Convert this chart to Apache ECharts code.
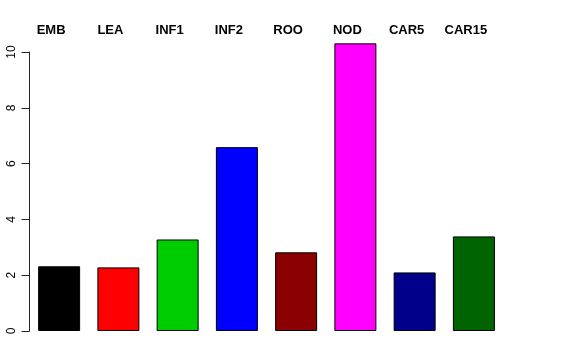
<!DOCTYPE html>
<html><head><meta charset="utf-8">
<script src="https://cdn.jsdelivr.net/npm/echarts@6/dist/echarts.min.js"></script>
<style>html,body{margin:0;padding:0;background:#fff}#c{width:576px;height:360px}</style>
</head><body><div id="c"></div>
<script>
var categories = ["EMB","LEA","INF1","INF2","ROO","NOD","CAR5","CAR15"];
var values = [2.32, 2.28, 3.28, 6.59, 2.82, 10.31, 2.10, 3.39];
var colors = ["#000000","#FF0000","#00CD00","#0000FF","#8B0000","#FF00FF","#00008B","#006400"];
var yTicks = [0, 2, 4, 6, 8, 10];

var chart = echarts.init(document.getElementById('c'), null, {renderer:'canvas'});
chart.setOption({
  animation: false,
  backgroundColor: '#fff',
  grid: {left: 29.5, right: 72.5, top: 52, bottom: 29, containLabel: false},
  xAxis: [{
    type: 'category', data: categories, position: 'bottom',
    axisLine: {show: false}, axisTick: {show: false}, axisLabel: {show: false}
  },{
    type: 'category', data: categories, position: 'top',
    axisLine: {show: false}, axisTick: {show: false},
    axisLabel: {show: true, interval: 0, margin: 15, fontFamily: 'Liberation Sans, Arial, sans-serif',
      fontWeight: 'bold', fontSize: 13, color: '#000', padding: [0, 16, 0, 0]}
  }],
  yAxis: {
    type: 'value', min: yTicks[0], max: yTicks[yTicks.length-1], interval: 2,
    splitLine: {show: false},
    axisLine: {show: true, lineStyle: {color: '#222', width: 1}},
    axisTick: {show: true, length: 8, lineStyle: {color: '#222'}},
    axisLabel: {rotate: 90, margin: 12, fontFamily: 'Liberation Sans, Arial, sans-serif', fontSize: 12, color: '#000'}
  },
  series: [{
    type: 'bar', xAxisIndex: 0, barWidth: 42, clip: false,
    data: values.map(function(v, i){ return {value: v, itemStyle: {color: colors[i]}}; }),
    itemStyle: {borderColor: '#000', borderWidth: 1}
  }]
});
</script></body></html>
